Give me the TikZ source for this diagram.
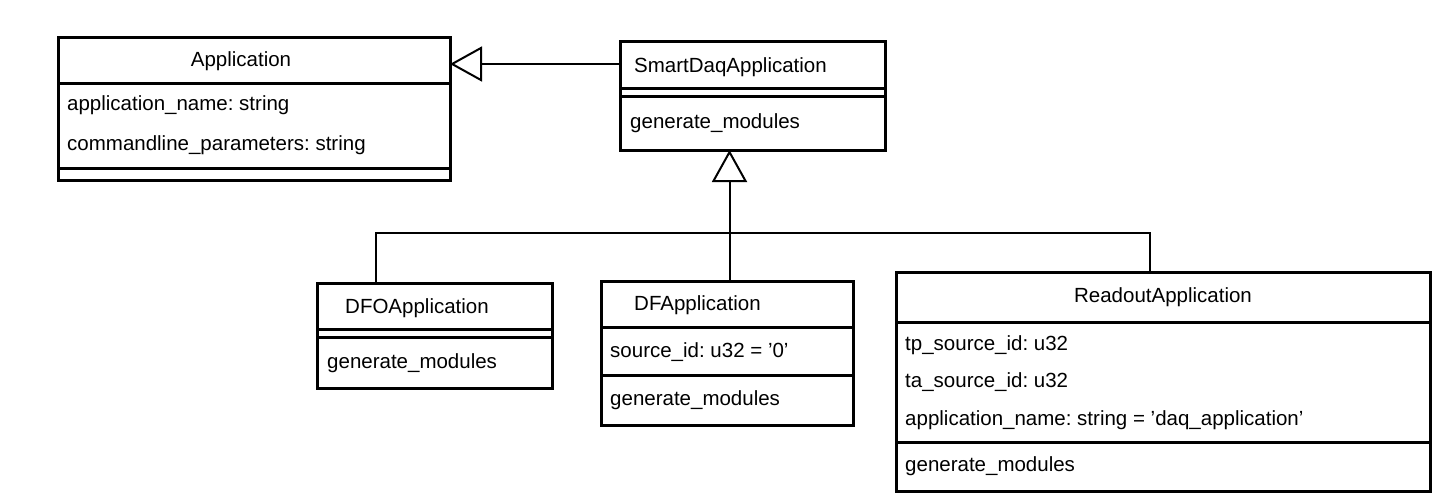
\documentclass[tikz,border=0pt]{standalone}
\usepackage{fontspec}
\setmainfont{Liberation Sans}
\usetikzlibrary{arrows.meta}
\begin{document}
\frenchspacing
\begin{tikzpicture}[x=1pt,y=-1pt,
  cls/.style={draw, line width=3pt, inner sep=0pt, outer sep=0pt, anchor=north west},
  sepline/.style={line width=3pt},
  txt/.style={inner sep=0pt, font=\fontsize{20.5pt}{24pt}\selectfont},
  conn/.style={line width=2pt},
  gen/.style={conn, -{Triangle[open, length=32pt, width=35pt, line width=2pt]}}
]
\useasboundingbox (0,0) rectangle (1450,500);

% Application
\node[cls, minimum width=392pt, minimum height=142pt] (app) at (58,38) {};
\draw[sepline] (app.west |- 0,84) -- (app.east |- 0,84);
\draw[sepline] (app.west |- 0,168) -- (app.east |- 0,168);
\node[txt] (appt) at (241,61) {Application};
\node[txt, anchor=west] (appa1) at (67,105) {application\_name: string};
\node[txt, anchor=west] (appa2) at (67,145) {commandline\_parameters: string};

% SmartDaqApplication
\node[cls, minimum width=265pt, minimum height=108pt] (smart) at (620,42) {};
\draw[sepline] (smart.west |- 0,89) -- (smart.east |- 0,89);
\draw[sepline] (smart.west |- 0,97) -- (smart.east |- 0,97);
\node[txt, anchor=west] (smartt) at (634,67) {SmartDaqApplication};
\node[txt, anchor=west] (smartm) at (630,123) {generate\_modules};

% DFOApplication
\node[cls, minimum width=235pt, minimum height=105pt] (dfo) at (317,283) {};
\draw[sepline] (dfo.west |- 0,329) -- (dfo.east |- 0,329);
\draw[sepline] (dfo.west |- 0,337) -- (dfo.east |- 0,337);
\node[txt, anchor=west] (dfot) at (345,308) {DFOApplication};
\node[txt, anchor=west] (dfom) at (327,363) {generate\_modules};

% DFApplication
\node[cls, minimum width=252pt, minimum height=144pt] (df) at (601,281) {};
\draw[sepline] (df.west |- 0,327) -- (df.east |- 0,327);
\draw[sepline] (df.west |- 0,375) -- (df.east |- 0,375);
\node[txt, anchor=west] (dft) at (634,305) {DFApplication};
\node[txt, anchor=west] (dfa1) at (610,352) {source\_id: u32 = '0'};
\node[txt, anchor=west] (dfm) at (610,400) {generate\_modules};

% ReadoutApplication
\node[cls, minimum width=534pt, minimum height=219pt] (ro) at (896,272) {};
\draw[sepline] (ro.west |- 0,322) -- (ro.east |- 0,322);
\draw[sepline] (ro.west |- 0,442) -- (ro.east |- 0,442);
\node[txt] (rot) at (1163,297) {ReadoutApplication};
\node[txt, anchor=west] (roa1) at (905,345) {tp\_source\_id: u32};
\node[txt, anchor=west] (roa2) at (905,382) {ta\_source\_id: u32};
\node[txt, anchor=west] (roa3) at (905,420) {application\_name: string = 'daq\_application'};
\node[txt, anchor=west] (rom) at (905,466) {generate\_modules};

% connectors
\coordinate (bus) at (729.5,233);
\draw[gen] ([yshift=-22pt]smart.north west) -- ([yshift=-26pt]app.north east);
\draw[gen] ([xshift=-23pt]smart.south |- df.north) -- ([xshift=-23pt]smart.south);
\draw[conn] ([xshift=59pt]dfo.north west) |- (bus);
\draw[conn] ([xshift=-13pt]ro.north) |- (bus);
\end{tikzpicture}
\end{document}
